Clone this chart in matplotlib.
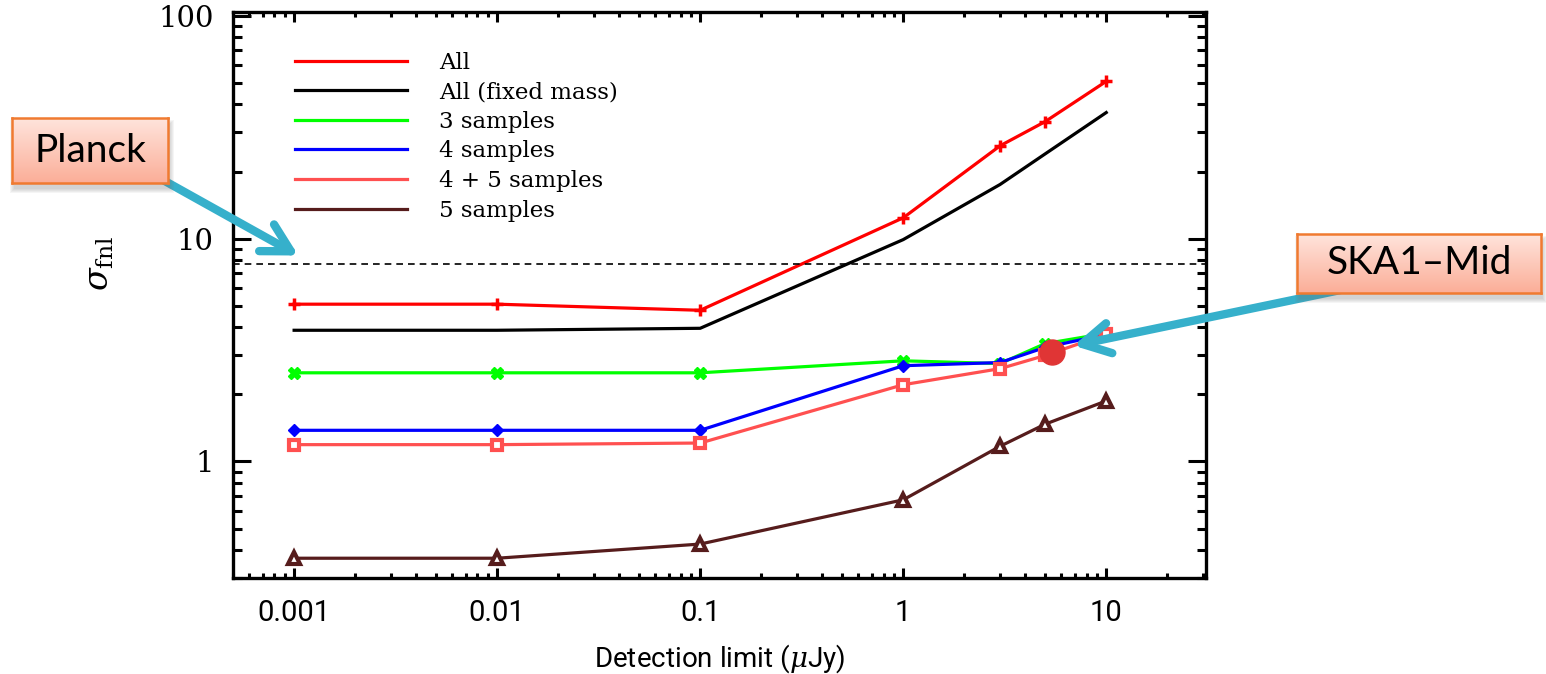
import numpy as np
import matplotlib
matplotlib.use('Agg')
from matplotlib import pyplot as plt
from matplotlib.colors import LinearSegmentedColormap
from matplotlib.patches import Rectangle
from matplotlib.ticker import LogLocator, NullFormatter, FixedLocator, FixedFormatter

plt.rcParams['mathtext.fontset'] = 'dejavuserif'

W, H = 1546, 674

# Detection limits (uJy)
det_limit = [0.001, 0.01, 0.1, 1, 3, 5, 10]

# sigma(fnl) for each sample combination
sig_all = [5.08, 5.08, 4.77, 12.4, 26.1, 33.5, 50.8]
sig_all_fixed = [3.88, 3.88, 3.96, 9.9, 17.5, 24.0, 36.8]
sig_3 = [2.50, 2.50, 2.50, 2.83, 2.75, 3.38, 3.76]
sig_4 = [1.38, 1.38, 1.38, 2.69, 2.78, 3.25, 3.72]
sig_45 = [1.19, 1.19, 1.21, 2.21, 2.61, 2.99, 3.72]
sig_5 = [0.368, 0.368, 0.426, 0.673, 1.17, 1.47, 1.87]

planck_sigma = 7.7
ska_point = (5.4, 3.1)

x_ticks = [0.001, 0.01, 0.1, 1, 10]
x_ticklabels = ['0.001', '0.01', '0.1', '1', '10']
y_ticks = [1, 10, 100]
y_ticklabels = ['1', '10', '100']


def fx(x):
    return x / W


def fy(y):
    return 1 - y / H


fig = plt.figure(figsize=(W / 100, H / 100), dpi=100)
ax = fig.add_axes([fx(233), fy(578), (1206 - 233) / W, (578 - 12) / H])

lw = 2.3
ax.plot(det_limit, sig_all, color='#ff0000', lw=lw, marker='+', ms=8, mew=2.5, label='All')
ax.plot(det_limit, sig_all_fixed, color='black', lw=lw, label='All (fixed mass)')
ax.plot(det_limit, sig_3, color='#00ff00', lw=lw, marker='X', ms=9, label='3 samples')
ax.plot(det_limit, sig_4, color='#0000ff', lw=lw, marker='D', ms=6, label='4 samples')
ax.plot(det_limit, sig_45, color='#ff5050', lw=lw, marker='s', ms=7, mfc='white', mew=3,
        label='4 + 5 samples')
ax.plot(det_limit, sig_5, color='#561c1c', lw=lw, marker='^', ms=8, mfc='white', mew=3,
        label='5 samples')
ax.axhline(planck_sigma, color='black', lw=1.2, ls=(0, (4, 3)))
ax.plot(*ska_point, 'o', color='#e03535', ms=18, zorder=10)

ax.set_xscale('log')
ax.set_yscale('log')
ax.set_xlim(0.0005, 31)
ax.set_ylim(0.3, 104)

ax.xaxis.set_major_locator(FixedLocator(x_ticks))
ax.xaxis.set_major_formatter(FixedFormatter(x_ticklabels))
ax.yaxis.set_major_locator(FixedLocator(y_ticks))
ax.yaxis.set_major_formatter(FixedFormatter(y_ticklabels))
ax.xaxis.set_minor_locator(LogLocator(base=10, subs=np.arange(2, 10), numticks=20))
ax.yaxis.set_minor_locator(LogLocator(base=10, subs=np.arange(2, 10), numticks=20))
ax.xaxis.set_minor_formatter(NullFormatter())
ax.yaxis.set_minor_formatter(NullFormatter())

ax.tick_params(which='both', direction='in', top=True, right=True, width=2.2, color='black')
ax.tick_params(axis='x', which='major', length=7.5, pad=15)
ax.tick_params(axis='x', which='minor', length=3.5)
ax.tick_params(axis='y', which='major', length=13, pad=14)
ax.tick_params(axis='y', which='minor', length=6.5)
for s in ax.spines.values():
    s.set_linewidth(2.4)

for t in ax.get_xticklabels():
    t.set_family('Roboto')
    t.set_fontsize(21)
for t in ax.get_yticklabels():
    t.set_family('DejaVu Serif')
    t.set_fontsize(21)

ax.set_xlabel(r'Detection limit ($\mu$Jy)', fontsize=20, family='Roboto')
ax.xaxis.set_label_coords(0.5, -0.113)
ax.set_ylabel(r'$\sigma_{\rm fnl}$', fontsize=24)
ax.yaxis.set_label_coords(-0.12, 0.555)

leg = ax.legend(loc='upper left', bbox_to_anchor=(0.052, 0.95), frameon=False,
                handlelength=4.9, handletextpad=1.4, labelspacing=0.33, borderpad=0,
                prop={'family': 'DejaVu Serif', 'size': 16.5})
for h in leg.legend_handles:
    h.set_marker('')
    h.set_linewidth(2.3)


def callout(x0, y0, x1, y1, text):
    for i in range(5):
        fig.patches.append(Rectangle((fx(x0 + 2 - i), fy(y1 + 6 + i)), (x1 - x0 + 2 * i) / W,
                                     (y1 - y0 + 2 * i) / H, transform=fig.transFigure,
                                     color='0.45', alpha=0.07, lw=0, zorder=5))
    bax = fig.add_axes([fx(x0), fy(y1), (x1 - x0) / W, (y1 - y0) / H], zorder=6)
    cmap = LinearSegmentedColormap.from_list('box', ['#ffe4dc', '#fbae98'])
    bax.imshow(np.linspace(0, 1, 100)[:, None], aspect='auto', cmap=cmap,
               extent=[0, 1, 0, 1], origin='upper')
    bax.set_xticks([])
    bax.set_yticks([])
    for s in bax.spines.values():
        s.set_color('#f07a30')
        s.set_linewidth(1.8)
    bax.text(0.5, 0.5, text, ha='center', va='center', fontsize=28, family='Lato')


callout(12, 118, 168, 183, 'Planck')
callout(1297, 234, 1541, 293, 'SKA1\u2013Mid')

arrow = dict(arrowstyle='->, head_length=1.0, head_width=0.55', color='#36b0cb', lw=6,
             shrinkA=0, shrinkB=0, mutation_scale=20)
ax.annotate('', xy=(0.00105, 8.4), xytext=(fx(163), fy(180)), textcoords='figure fraction',
            arrowprops=arrow, annotation_clip=False, zorder=12)
ax.annotate('', xy=(6.9, 3.31), xytext=(fx(1355), fy(287)), textcoords='figure fraction',
            arrowprops=arrow, annotation_clip=False, zorder=12)

fig.savefig('out.png', dpi=100)
